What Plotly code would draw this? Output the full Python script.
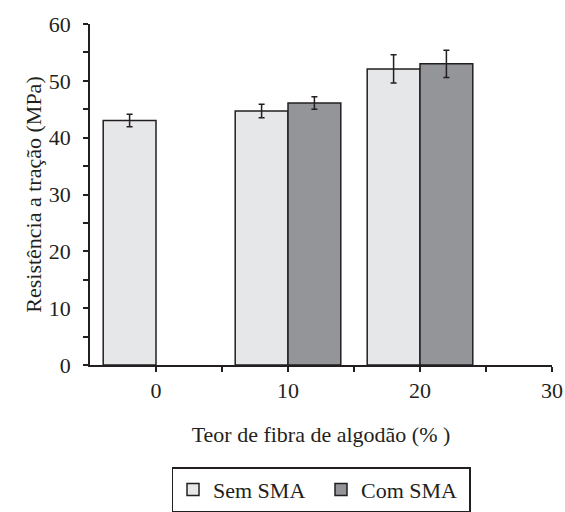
import plotly.graph_objects as go

fiber = [0, 10, 20]
sem_sma = [43.0, 44.7, 52.1]
sem_err = [1.1, 1.2, 2.5]
fiber_com = [10, 20]
com_sma = [46.1, 53.0]
com_err = [1.1, 2.4]

FONT = "Liberation Serif"
INK = "#231f20"

fig = go.Figure()
fig.add_trace(go.Bar(
    x=fiber, y=sem_sma, name="Sem SMA", width=4, offset=-4,
    marker=dict(color="#e6e7e8", line=dict(color=INK, width=1.5)),
    error_y=dict(type="data", array=sem_err, color=INK, thickness=1.5, width=3),
))
fig.add_trace(go.Bar(
    x=fiber_com, y=com_sma, name="Com SMA", width=4, offset=0,
    marker=dict(color="#939598", line=dict(color=INK, width=1.5)),
    error_y=dict(type="data", array=com_err, color=INK, thickness=1.5, width=3),
))

fig.update_layout(
    width=565, height=512,
    margin=dict(l=90, r=13, t=24, b=147, autoexpand=False),
    paper_bgcolor="white", plot_bgcolor="white",
    barmode="overlay",
    font=dict(family=FONT, size=22, color=INK),
    showlegend=True,
    legend=dict(orientation="h", x=0.5, xanchor="center", y=-0.3, yanchor="top",
                bordercolor=INK, borderwidth=1.5, font=dict(family=FONT, size=22, color=INK),
                traceorder="normal", entrywidth=103, entrywidthmode="pixels"),
)
fig.update_xaxes(
    range=[-5, 30], tickvals=[0, 10, 20, 30], ticks="outside", ticklen=5,
    tickcolor=INK, tickwidth=1.5,
    minor=dict(tickvals=[5, 15, 25], ticks="outside", ticklen=5, tickcolor=INK, tickwidth=1.5),
    showline=True, linecolor=INK, linewidth=1.5, showgrid=False, zeroline=False,
    title=dict(text="Teor de fibra de algodão (% )", standoff=24, font=dict(family=FONT, size=22)),
    tickfont=dict(family=FONT, size=22),
)
fig.update_yaxes(
    range=[0, 60], dtick=10, ticks="outside", ticklen=5, tickcolor=INK, tickwidth=1.5,
    minor=dict(dtick=5, ticks="outside", ticklen=5, tickcolor=INK, tickwidth=1.5),
    showline=True, linecolor=INK, linewidth=1.5, showgrid=False, zeroline=False,
    title=dict(text="Resistência a tração (MPa)", standoff=1, font=dict(family=FONT, size=22)),
    tickfont=dict(family=FONT, size=22), ticklabelstandoff=8,
)

fig.write_html(
    "out.html",
    config={"displayModeBar": False},
    post_script="document.body.style.margin='0';document.body.style.overflow='hidden';",
)
